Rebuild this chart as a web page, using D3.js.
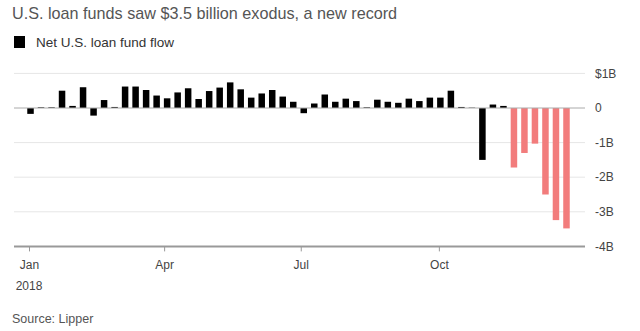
<!DOCTYPE html>
<html>
<head>
<meta charset="utf-8">
<script src="https://cdn.jsdelivr.net/npm/d3@7"></script>
<style>
  html, body { margin: 0; padding: 0; background: #fff; }
  svg { display: block; font-family: "Liberation Sans", Arial, sans-serif; }
</style>
</head>
<body>
<svg id="chart"></svg>
<script>
// Weekly dates (Lipper weekly flow reports)
const weeks = [
  '2018-01-02', '2018-01-09', '2018-01-16', '2018-01-23', '2018-01-30',
  '2018-02-06', '2018-02-13', '2018-02-20', '2018-02-27',
  '2018-03-06', '2018-03-13', '2018-03-20', '2018-03-27',
  '2018-04-03', '2018-04-10', '2018-04-17', '2018-04-24',
  '2018-05-01', '2018-05-08', '2018-05-15', '2018-05-22', '2018-05-29',
  '2018-06-05', '2018-06-12', '2018-06-19', '2018-06-26',
  '2018-07-03', '2018-07-10', '2018-07-17', '2018-07-24', '2018-07-31',
  '2018-08-07', '2018-08-14', '2018-08-21', '2018-08-28',
  '2018-09-04', '2018-09-11', '2018-09-18', '2018-09-25',
  '2018-10-02', '2018-10-09', '2018-10-16', '2018-10-23', '2018-10-30',
  '2018-11-06', '2018-11-13', '2018-11-20', '2018-11-27',
  '2018-12-04', '2018-12-11', '2018-12-18', '2018-12-25'
];

// Net U.S. loan fund flow, $ billions
const flows = [
  -0.17, 0.02, 0.02, 0.5, 0.06, 0.6, -0.22, 0.23, 0.03, 0.62,
  0.62, 0.52, 0.36, 0.28, 0.45, 0.57, 0.26, 0.49, 0.59, 0.74,
  0.54, 0.3, 0.42, 0.52, 0.33, 0.18, -0.15, 0.13, 0.39, 0.18,
  0.27, 0.2, 0.02, 0.24, 0.18, 0.15, 0.27, 0.2, 0.3, 0.3,
  0.5, 0.03, 0.01, -1.5, 0.1, 0.06, -1.72, -1.3, -1.03, -2.5,
  -3.24, -3.48
];

// Record outflow streak highlighted from this week on
const streakStart = '2018-11-20';

const yTicks = [1, 0, -1, -2, -3, -4];
const yTickLabels = ['$1B', '0', '-1B', '-2B', '-3B', '-4B'];
const monthTicks = ['2018-01-01', '2018-04-01', '2018-07-01', '2018-10-01'];
const monthLabels = ['Jan', 'Apr', 'Jul', 'Oct'];

const parse = d3.timeParse('%Y-%m-%d');
const data = weeks.map((w, i) => ({ date: parse(w), value: flows[i], streak: w >= streakStart }));

const width = 640;
const height = 331;

const svg = d3.select('#chart')
  .attr('width', width)
  .attr('height', height);

// Scales
const x = d3.scaleTime()
  .domain([parse('2017-12-22'), parse('2019-01-07')])
  .range([14, 586]);

const y = d3.scaleLinear()
  .domain([-4, 1])
  .range([246.4, 73.4]);

const gridRight = 585;

// Title
svg.append('text')
  .attr('x', 12)
  .attr('y', 19)
  .attr('fill', '#555')
  .style('font-size', '16.2px')
  .text('U.S. loan funds saw $3.5 billion exodus, a new record');

// Legend
svg.append('rect')
  .attr('x', 14)
  .attr('y', 36)
  .attr('width', 11)
  .attr('height', 12)
  .attr('fill', '#000');

svg.append('text')
  .attr('x', 36)
  .attr('y', 47)
  .attr('fill', '#333')
  .style('font-size', '13.5px')
  .text('Net U.S. loan fund flow');

// Gridlines
svg.append('g')
  .selectAll('line')
  .data(yTicks.filter(d => d !== 0 && d !== -4))
  .enter()
  .append('line')
  .attr('x1', 14)
  .attr('x2', gridRight)
  .attr('y1', d => y(d))
  .attr('y2', d => y(d))
  .attr('stroke', '#e6e6e6')
  .attr('stroke-width', 1);

// Y labels on the right
svg.append('g')
  .selectAll('text')
  .data(yTicks)
  .enter()
  .append('text')
  .attr('x', 595)
  .attr('y', d => y(d))
  .attr('dy', '0.35em')
  .attr('fill', '#444')
  .style('font-size', '12px')
  .text((d, i) => yTickLabels[i]);

// Bars
const barWidth = 6.5;
svg.append('g')
  .selectAll('rect')
  .data(data)
  .enter()
  .append('rect')
  .attr('x', d => x(d.date) - barWidth / 2)
  .attr('width', barWidth)
  .attr('y', d => y(Math.max(0, d.value)))
  .attr('height', d => Math.abs(y(d.value) - y(0)))
  .attr('fill', d => d.streak ? '#f27c7c' : '#000');

// Zero line
svg.append('line')
  .attr('x1', 14)
  .attr('x2', gridRight)
  .attr('y1', y(0))
  .attr('y2', y(0))
  .attr('stroke', '#aaa')
  .attr('stroke-width', 1);

// X axis
const xAxis = svg.append('g')
  .attr('transform', `translate(0,${y(-4)})`)
  .call(d3.axisBottom(x)
    .tickValues(monthTicks.map(parse))
    .tickSize(5)
    .tickPadding(9)
    .tickFormat((d, i) => monthLabels[i]));

xAxis.select('.domain')
  .attr('d', `M14,0H${gridRight}`)
  .attr('stroke', '#999')
  .attr('stroke-width', 2);

xAxis.selectAll('.tick line')
  .attr('stroke', '#999');

xAxis.selectAll('.tick text')
  .attr('fill', '#444')
  .style('font-size', '12px')
  .style('font-family', '"Liberation Sans", Arial, sans-serif');

svg.append('text')
  .attr('x', x(parse(monthTicks[0])))
  .attr('y', 290)
  .attr('text-anchor', 'middle')
  .attr('fill', '#444')
  .style('font-size', '12px')
  .text('2018');

// Source
svg.append('text')
  .attr('x', 12)
  .attr('y', 323)
  .attr('fill', '#555')
  .style('font-size', '12.5px')
  .text('Source: Lipper');
</script>
</body>
</html>
